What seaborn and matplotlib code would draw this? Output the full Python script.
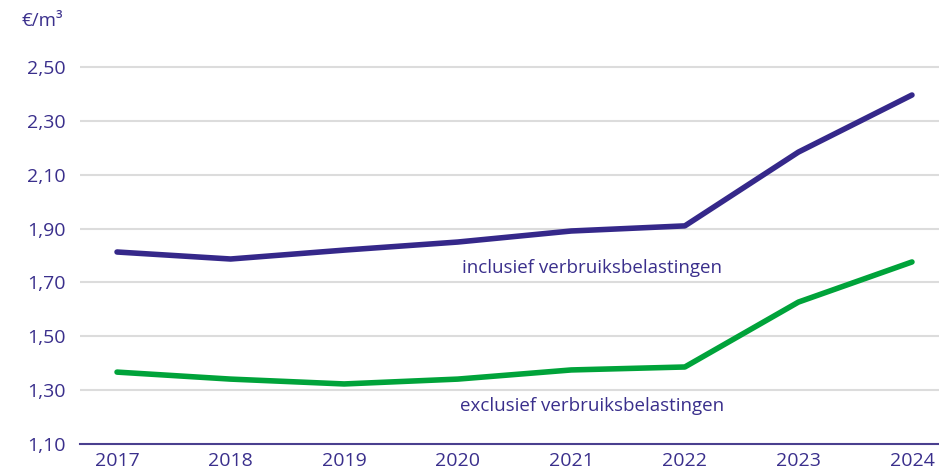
import pandas as pd
import matplotlib.pyplot as plt
import seaborn as sns

# data
jaren = [2017, 2018, 2019, 2020, 2021, 2022, 2023, 2024]
inclusief = [1.813, 1.787, 1.820, 1.850, 1.891, 1.910, 2.184, 2.396]
exclusief = [1.367, 1.341, 1.323, 1.341, 1.375, 1.386, 1.627, 1.776]
y_ticks = [1.10, 1.30, 1.50, 1.70, 1.90, 2.10, 2.30, 2.50]

paars = '#35288a'
groen = '#00a33a'
tekst = '#3a2f8c'

sns.set_style('white')
plt.rcParams['font.family'] = ['Open Sans', 'DejaVu Sans']

df = pd.DataFrame({'jaar': jaren, 'incl': inclusief, 'excl': exclusief})

fig = plt.figure(figsize=(9.39, 4.74), dpi=100)
ax = fig.add_axes([80 / 939, 30 / 474, 859 / 939, (444 - 30) / 474])

# lichte rasterlijnen
for y in y_ticks[1:]:
    ax.axhline(y, color='#dcdcdc', linewidth=1.5, zorder=0)

sns.lineplot(data=df, x='jaar', y='incl', ax=ax, color=paars, linewidth=4, solid_capstyle='round')
sns.lineplot(data=df, x='jaar', y='excl', ax=ax, color=groen, linewidth=4, solid_capstyle='round')

ax.set_xlim(2016.674, 2024.238)
ax.set_ylim(1.10, 2.5 + 37 / 269.3)
ax.set_xticks(jaren)
ax.set_xticklabels([str(j) for j in jaren])
ax.set_yticks(y_ticks)
ax.set_yticklabels([f'{v:.2f}'.replace('.', ',') for v in y_ticks])
ax.tick_params(axis='both', length=0, labelsize=14, colors=tekst)
ax.tick_params(axis='y', pad=10)
ax.tick_params(axis='x', pad=6)
ax.set_xlabel('')
ax.set_ylabel('')

for s in ['top', 'right', 'left']:
    ax.spines[s].set_visible(False)
ax.spines['bottom'].set_color('#4a3f8f')
ax.spines['bottom'].set_linewidth(1.5)

ax.text(2021.18, 1.754, 'inclusief verbruiksbelastingen', ha='center', va='center',
        fontsize=13.5, color=tekst)
ax.text(2021.18, 1.241, 'exclusief verbruiksbelastingen', ha='center', va='center',
        fontsize=13.5, color=tekst)

fig.text(22 / 939, 1 - 21 / 474, '€/m³', ha='left', va='center', fontsize=13.5, color=tekst)

plt.savefig('out.png', dpi=100)
